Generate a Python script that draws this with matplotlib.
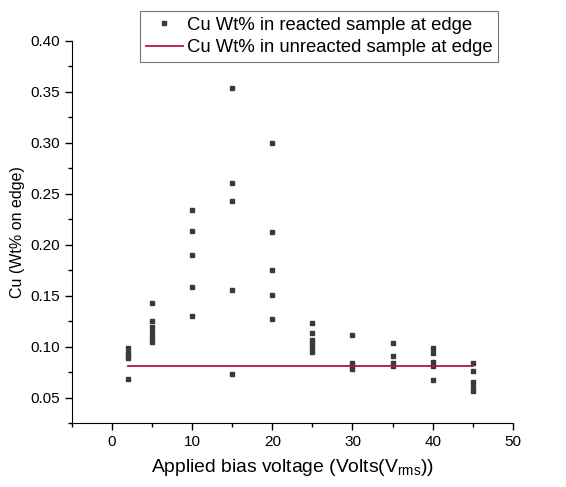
import numpy as np
import matplotlib
matplotlib.use('Agg')
import matplotlib.pyplot as plt
from matplotlib.ticker import MultipleLocator

plt.rcParams['font.family'] = ['Liberation Sans', 'DejaVu Sans']
plt.rcParams['mathtext.fontset'] = 'custom'
plt.rcParams['mathtext.rm'] = 'Liberation Sans'

# reacted sample, Cu wt% at edge
volts = [2, 2, 2, 2, 2,
         5, 5, 5, 5, 5, 5,
         10, 10, 10, 10, 10,
         15, 15, 15, 15, 15,
         20, 20, 20, 20, 20,
         25, 25, 25, 25, 25, 25,
         30, 30, 30, 30,
         35, 35, 35, 35,
         40, 40, 40, 40, 40,
         45, 45, 45, 45, 45]
cu_wt = [0.099, 0.094, 0.091, 0.089, 0.068,
         0.143, 0.125, 0.119, 0.114, 0.110, 0.105,
         0.234, 0.214, 0.190, 0.159, 0.130,
         0.354, 0.261, 0.243, 0.156, 0.073,
         0.300, 0.213, 0.175, 0.151, 0.127,
         0.123, 0.113, 0.107, 0.103, 0.099, 0.095,
         0.112, 0.084, 0.081, 0.078,
         0.104, 0.091, 0.084, 0.081,
         0.099, 0.094, 0.085, 0.081, 0.067,
         0.084, 0.076, 0.065, 0.061, 0.057]

# unreacted sample reference level
unreacted_x = [2, 45]
unreacted_y = [0.081, 0.081]

fig = plt.figure(figsize=(5.66, 4.87), dpi=100)
ax = fig.add_axes([0.127, 0.131, 0.779, 0.785])

ax.plot(volts, cu_wt, 's', color='#3a3a3a', markersize=3.5, linestyle='none',
        label='Cu Wt% in reacted sample at edge')
ax.plot(unreacted_x, unreacted_y, color='#b3173f', linewidth=1.3,
        label='Cu Wt% in unreacted sample at edge')

ax.set_xlim(-5, 50)
ax.set_ylim(0.025, 0.40)
ax.xaxis.set_major_locator(MultipleLocator(10))
ax.xaxis.set_minor_locator(MultipleLocator(5))
ax.yaxis.set_major_locator(MultipleLocator(0.05))
ax.yaxis.set_minor_locator(MultipleLocator(0.025))
ax.yaxis.set_major_formatter(matplotlib.ticker.FormatStrFormatter('%.2f'))

for s in ['top', 'right']:
    ax.spines[s].set_visible(False)
ax.tick_params(which='major', direction='out', length=5, width=1, labelsize=11)
ax.tick_params(which='minor', direction='out', length=3, width=1)

ax.set_xlabel('Applied bias voltage (Volts(V$_{\\rm rms}$))', fontsize=13.9, labelpad=6)
ax.set_ylabel('Cu (Wt% on edge)', fontsize=11.5, labelpad=4)

leg = ax.legend(loc='upper right', bbox_to_anchor=(0.548, 1.078, 0.418, 0.0),
                fontsize=13.3, frameon=True, fancybox=False, edgecolor='#555555',
                handlelength=2.0, handletextpad=0.2, borderpad=0.3,
                labelspacing=0.3, borderaxespad=0)
leg.get_frame().set_linewidth(0.8)

plt.savefig('out.png', dpi=100)
